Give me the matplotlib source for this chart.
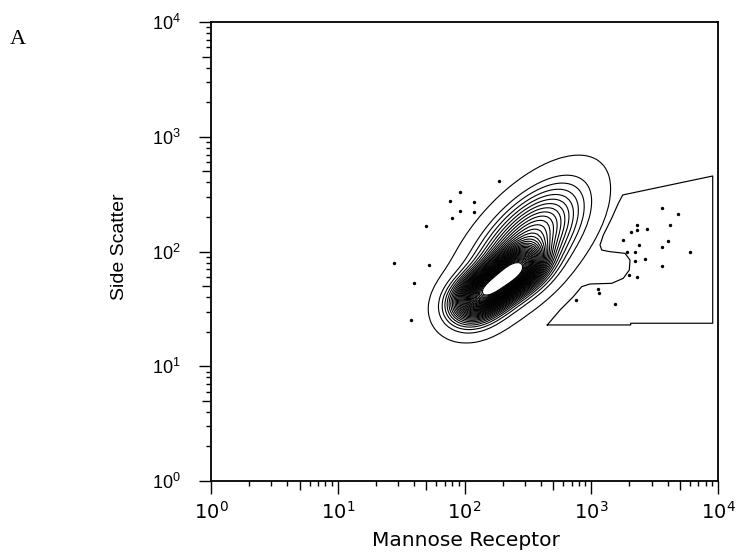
import numpy as np
import matplotlib
matplotlib.use("Agg")
import matplotlib.pyplot as plt
from matplotlib.ticker import LogLocator, NullFormatter, LogFormatterSciNotation

plt.rcParams['font.family'] = ['Liberation Sans', 'DejaVu Sans']

# ---- scattered events outside contours (Mannose Receptor, Side Scatter) ----
dots_x = [188, 92, 77, 118, 92, 80, 118, 50, 28, 52, 40, 38,
          3636, 4834, 2284, 2048, 2284, 2738, 4181, 1771, 4054, 2368, 3636, 6013,
          1915, 2202, 2202, 2641, 3636, 1996, 2284, 1124, 1157, 754, 1548]
dots_y = [414, 332, 277, 268, 224, 194, 221, 168, 80, 77, 53.5, 25.3,
          241, 211, 169, 147, 153, 157, 169, 127, 123, 114, 109, 99,
          98.4, 98.4, 83.2, 85.5, 74.3, 62.4, 59.6, 46.8, 43.2, 37.6, 34.9]

# ---- gate polygon ----
gate_x = [450, 2048, 2048, 9083, 9083, 1771, 1635, 1450, 1245, 1172, 1209, 1406,
          1846, 2022, 1996, 1790, 1450, 977, 841, 722, 567, 450]
gate_y = [22.9, 22.9, 23.7, 23.7, 455, 311, 263, 195, 139, 114, 103, 99.6,
          96.4, 84.3, 69.0, 58.4, 52.8, 52.1, 49.4, 40.4, 30.9, 22.9]

# ---- density model (log10 decades) ----
comp_u = [2.19, 2.41, 2.485, 2.06]
comp_v = [1.665, 1.84, 2.06, 1.55]
comp_sd_major = [0.15, 0.15, 0.36, 0.14]
comp_sd_minor = [0.10, 0.10, 0.17, 0.12]
comp_angle = [38, 38, 52, 40]
comp_weight = [1.0, 1.0, 0.55, 0.35]

levels = [0.012] + list(np.round(np.arange(0.045, 0.88, 0.024), 3))

mid_ticks = [5, 50, 500, 5000]

fig = plt.figure(figsize=(7.39, 5.57), dpi=100)
ax = fig.add_axes([211 / 739, 1 - 481 / 557, 507 / 739, 459 / 557])

gu = np.linspace(0, 4, 161)
gv = np.linspace(0, 4, 161)
U, V = np.meshgrid(gu, gv)
Z = np.zeros_like(U)
for cu, cv, sa, sb, ang, w in zip(comp_u, comp_v, comp_sd_major, comp_sd_minor, comp_angle, comp_weight):
    t = np.deg2rad(ang)
    du, dv = U - cu, V - cv
    a = du * np.cos(t) + dv * np.sin(t)
    b = -du * np.sin(t) + dv * np.cos(t)
    Z += w * np.exp(-0.5 * ((a / sa) ** 2 + (b / sb) ** 2))
Z /= Z.max()

ax.set_xscale('log')
ax.set_yscale('log')
ax.contour(10 ** U, 10 ** V, Z, levels=levels, colors='black', linewidths=0.8)
ax.scatter(dots_x, dots_y, s=6, color='black', linewidths=0)
ax.plot(gate_x, gate_y, color='black', lw=0.85)

ax.set_xlim(1, 1e4)
ax.set_ylim(1, 1e4)
for axis in (ax.xaxis, ax.yaxis):
    axis.set_major_locator(LogLocator(base=10, numticks=10))
    axis.set_minor_locator(LogLocator(base=10, subs=(2, 3, 4, 6, 7, 8, 9), numticks=20))
    axis.set_minor_formatter(NullFormatter())
    axis.set_major_formatter(LogFormatterSciNotation())
ax.tick_params(which='major', direction='out', length=9, width=1)
ax.tick_params(which='minor', direction='out', length=3.6, width=1)
ax.tick_params(axis='x', which='major', labelsize=14, labelfontfamily='DejaVu Sans', pad=5)
ax.tick_params(axis='y', which='major', labelsize=13, labelfontfamily='Liberation Sans', pad=13)
for m in mid_ticks:
    ax.plot([m], [0], marker=3, markersize=6.2, mew=1, color='black',
            transform=ax.get_xaxis_transform(), clip_on=False)
    ax.plot([0], [m], marker=0, markersize=6.2, mew=1, color='black',
            transform=ax.get_yaxis_transform(), clip_on=False)
for s in ax.spines.values():
    s.set_linewidth(1.3)

fig.text(466 / 739, 1 - 545.7 / 557, 'Mannose Receptor', fontsize=14.5,
         family='DejaVu Sans', ha='center', va='baseline')
fig.text(119.7 / 739, 1 - 247 / 557, 'Side Scatter', fontsize=14, rotation=90,
         family='Liberation Sans', ha='center', va='center')
fig.text(10 / 739, 1 - 44 / 557, 'A', family='Liberation Serif', fontsize=16)

fig.savefig('out.png', dpi=100, facecolor='white')
